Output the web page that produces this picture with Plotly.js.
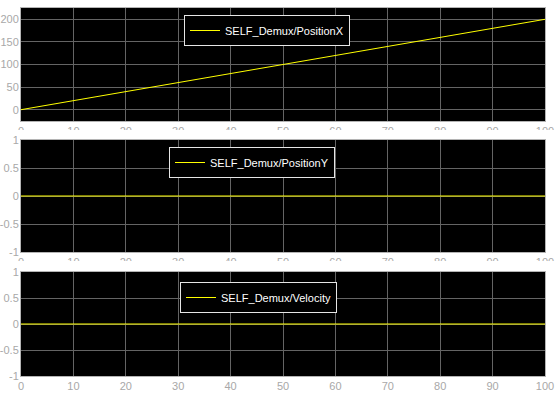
<!DOCTYPE html>
<html>
<head>
<meta charset="utf-8">
<script src="https://cdn.plot.ly/plotly-3.0.1.min.js"></script>
<style>html,body{margin:0;padding:0;background:#fff;}#chart{width:560px;height:396px;}</style>
</head>
<body>
<div id="chart"></div>
<script>
// Data
const time = [0, 10, 20, 30, 40, 50, 60, 70, 80, 90, 100];
const positionX = [0, 20, 40, 60, 80, 100, 120, 140, 160, 180, 200];
const positionY = [0, 0, 0, 0, 0, 0, 0, 0, 0, 0, 0];
const velocity = [0, 0, 0, 0, 0, 0, 0, 0, 0, 0, 0];
const seriesNames = ["SELF_Demux/PositionX", "SELF_Demux/PositionY", "SELF_Demux/Velocity"];
const posXTickVals = [0, 50, 100, 150, 200];
const posXTickText = ["0", "50", "100", "150", "200"];
const unitTickVals = [-1, -0.5, 0, 0.5, 1];
const unitTickText = ["-1", "-0.5", "0", "0.5", "1"];

const W = 560, H = 396;
const mL = 21, mR = 15, mT = 8, mB = 20;
const plotH = H - mT - mB, plotW = W - mL - mR;
const py = p => (H - mB - p) / plotH;   // pixel y -> paper y
const px = p => (p - mL) / plotW;       // pixel x -> paper x

const lineStyle = {color: '#ffff00', width: 1};
const traces = [
  {x: time, y: positionX, name: seriesNames[0], type: 'scatter', mode: 'lines', line: lineStyle, xaxis: 'x', yaxis: 'y', legend: 'legend'},
  {x: time, y: positionY, name: seriesNames[1], type: 'scatter', mode: 'lines', line: lineStyle, xaxis: 'x2', yaxis: 'y2', legend: 'legend2'},
  {x: time, y: velocity, name: seriesNames[2], type: 'scatter', mode: 'lines', line: lineStyle, xaxis: 'x3', yaxis: 'y3', legend: 'legend3'}
];

const tickFont = {family: 'Liberation Sans, Arial, sans-serif', size: 11, color: '#a8a8a8'};
function xa(anchor) {
  return {anchor: anchor, domain: [0, 1], range: [0, 100], dtick: 10, tick0: 0,
    showgrid: true, gridcolor: '#646464', gridwidth: 1, zeroline: false,
    showline: true, mirror: true, linecolor: '#b4b4b4', linewidth: 1,
    ticks: '', tickfont: tickFont, fixedrange: true};
}
function ya(anchor, dom, range, vals, text) {
  return {anchor: anchor, domain: dom, range: range, tickmode: 'array', tickvals: vals, ticktext: text,
    showgrid: true, gridcolor: '#646464', gridwidth: 1, zeroline: false,
    showline: true, mirror: true, linecolor: '#b4b4b4', linewidth: 1,
    ticks: '', ticklabelstandoff: -1, tickfont: tickFont, fixedrange: true};
}
function leg(xp, yp) {
  return {x: px(xp), y: py(yp), xanchor: 'left', yanchor: 'top',
    bgcolor: '#000000', bordercolor: '#e6e6e6', borderwidth: 1,
    font: {family: 'Liberation Sans, Arial, sans-serif', size: 11, color: '#ffffff'}};
}

const layout = {
  width: W, height: H,
  margin: {l: mL, r: mR, t: mT, b: mB, pad: 0},
  paper_bgcolor: '#ffffff', plot_bgcolor: '#000000',
  showlegend: true,
  xaxis: xa('y'),
  yaxis: ya('x', [py(121), 1], [-25, 225], posXTickVals, posXTickText),
  xaxis2: xa('y2'),
  yaxis2: ya('x2', [py(252), py(140)], [-1, 1], unitTickVals, unitTickText),
  xaxis3: xa('y3'),
  yaxis3: ya('x3', [0, py(272)], [-1, 1], unitTickVals, unitTickText),
  legend: leg(184, 15),
  legend2: leg(169, 147),
  legend3: leg(180, 282),
  shapes: [
    {type: 'rect', xref: 'paper', yref: 'paper', x0: px(17), x1: 1.03, y0: py(139), y1: py(130), fillcolor: '#ffffff', line: {width: 0}, layer: 'above'},
    {type: 'rect', xref: 'paper', yref: 'paper', x0: px(17), x1: 1.03, y0: py(271), y1: py(261), fillcolor: '#ffffff', line: {width: 0}, layer: 'above'}
  ]
};

Plotly.newPlot('chart', traces, layout, {staticPlot: true, displayModeBar: false});
</script>
</body>
</html>
